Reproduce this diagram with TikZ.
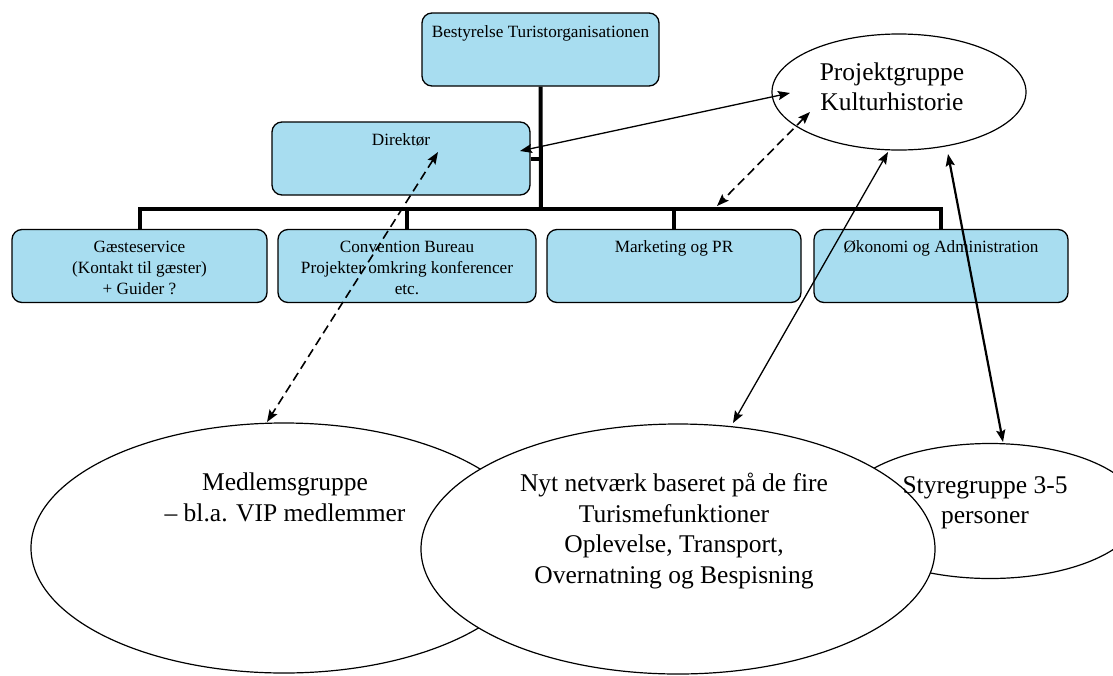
\documentclass[tikz,border=0pt]{standalone}
\usepackage{fontspec}
\setmainfont{Liberation Serif}
\usetikzlibrary{arrows.meta,calc,shapes.geometric}
\definecolor{boxblue}{RGB}{168,221,240}

\begin{document}
\begin{tikzpicture}[x=1pt,y=-1pt,
  orgbox/.style={draw=black, line width=1.3pt, fill=boxblue, rounded corners=10pt,
                 inner sep=0pt, minimum height=73pt},
  boxtext/.style={anchor=north, inner sep=0pt, align=center,
                  font=\fontsize{17.2}{21.3}\selectfont},
  oval/.style={draw=black, line width=1.2pt, ellipse, inner sep=0pt, fill=white},
  ovaltext/.style={anchor=north, inner sep=0pt, align=center,
                   font=\fontsize{25.5}{30.5}\selectfont},
  trunk/.style={line width=4pt},
  link/.style={line width=1.3pt, {Stealth[length=12pt,width=9pt,inset=2pt]}-{Stealth[length=12pt,width=9pt,inset=2pt]}},
  dlink/.style={link, line width=1.6pt, dash pattern=on 9pt off 5pt},
  boldlink/.style={link, line width=2.2pt}
]
\useasboundingbox (0,0) rectangle (1113,675);

% organisation boxes
\node[orgbox, minimum width=237pt] (bst) at (540.5,49.5) {};
\node[orgbox, minimum width=258pt] (dir) at (401,158.5) {};
\node[orgbox, minimum width=255pt] (gs)  at (139.5,266) {};
\node[orgbox, minimum width=258pt] (cb)  at (407,266) {};
\node[orgbox, minimum width=254pt] (mk)  at (674,266) {};
\node[orgbox, minimum width=254pt] (ok)  at (941,266) {};

% box labels
\node[boxtext] (bstt) at (540.5,25.2) {Bestyrelse Turistorganisationen};
\node[boxtext] (dirt) at (401,133.4) {Direktør};
\node[boxtext] (gst)  at (139.5,240.7) {Gæsteservice\\(Kontakt til gæster)\\+ Guider ?};
\node[boxtext] (cbt)  at (407,240.7) {Convention Bureau\\Projekter omkring konferencer\\etc.};
\node[boxtext] (mkt)  at (674,240.7) {Marketing og PR};
\node[boxtext] (okt)  at (941,240.7) {Økonomi og Administration};

% organisation lines
\coordinate (bar) at (541,209);
\draw[trunk] (bst.south) -- (bar);
\draw[trunk] (dir.east) -- (dir.east -| bar);
\draw[trunk] (gs.north) -- (gs.north |- bar) -- (ok.north |- bar) -- (ok.north);
\draw[trunk] (cb.north) -- (cb.north |- bar);
\draw[trunk] (mk.north) -- (mk.north |- bar);

% groups
\node[oval, minimum width=506pt, minimum height=250pt] (mg) at (284,548) {};
\node[oval, minimum width=300pt, minimum height=135pt] (sg) at (990,511) {};
\node[oval, minimum width=514pt, minimum height=250pt] (nn) at (678,549) {};
\node[oval, minimum width=254pt, minimum height=116pt] (kh) at (899,92) {};

\node[ovaltext] (kht) at (892,62.6) {Projektgruppe\\Kulturhistorie};
\node[ovaltext] (mgt) at (285,472.6) {Medlemsgruppe\\– bl.a. VIP medlemmer};
\node[ovaltext] (nnt) at (674,473.3) {Nyt netværk baseret på de fire\\Turismefunktioner\\Oplevelse, Transport,\\Overnatning og Bespisning};
\node[ovaltext] (sgt) at (985,476) {Styregruppe 3-5\\personer};

% relations
\draw[link] ($(dir.center)+(119,-7.5)$) -- ($(kh.center)+(-109,1)$);
\draw[dlink] ($(kh.center)+(-89,20)$) -- ($(bar)+(176,-3)$);
\draw[dlink] ($(dir.center)+(37,-6.5)$) -- ($(mg.center)+(-17,-126)$);
\draw[link] ($(kh.center)+(-11,60)$) -- ($(nn.center)+(55,-126)$);
\draw[boldlink] ($(kh.center)+(49,62)$) -- ($(sg.center)+(13,-69)$);
\end{tikzpicture}
\end{document}
